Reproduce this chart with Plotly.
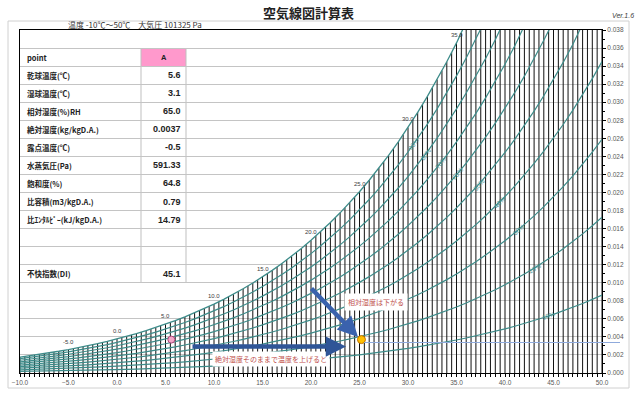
import numpy as np
import plotly.graph_objects as go

# ---------------- data ----------------
P_ATM = 101325.0
temps = list(range(-10, 51))
sat_pressure_pa = [286.5, 310.1, 335.3, 362.3, 391.1, 421.9, 454.7, 489.7, 527.1, 567.0,
                   611.2, 657.1, 706.0, 757.9, 813.5, 872.6, 935.4, 1001.8, 1072.9, 1148.1,
                   1228.1, 1312.9, 1402.7, 1497.9, 1598.8, 1705.6, 1818.5, 1938.0, 2064.4, 2197.8,
                   2338.8, 2487.7, 2644.7, 2810.4, 2985.0, 3169.0, 3362.9, 3567.0, 3781.8, 4007.8,
                   4245.5, 4495.3, 4757.8, 5033.5, 5322.9, 5626.7, 5945.4, 6279.5, 6629.8, 6996.9,
                   7381.4, 7784.0, 8205.4, 8646.4, 9107.6, 9589.8, 10093.8, 10620.2, 11170.0, 11743.8, 12344.0]
rh_levels = [10, 20, 30, 40, 50, 60, 70, 80, 90]
sat_label_temps = [-5, 0, 5, 10, 15, 20, 25, 30, 35]
dry_bulb_step = 0.5

row_labels = ["point", "乾球温度(℃)", "湿球温度(℃)", "相対湿度(%)RH", "絶対湿度(kg/kgD.A.)",
              "露点温度(℃)", "水蒸気圧(Pa)", "飽和度(%)", "比容積(m3/kgD.A.)",
              "比ｴﾝﾀﾙﾋﾟｰ(kJ/kgD.A.)", "", "", "不快指数(DI)"]
row_values = ["A", "5.6", "3.1", "65.0", "0.0037", "-0.5", "591.33", "64.8", "0.79",
              "14.79", "", "", "45.1"]

point_a = (5.6, 0.0037)
point_b = (25.2, 0.0037)

title = "空気線図計算表"
subtitle = "温度 -10℃～50℃　大気圧 101325 Pa"
version = "Ver.1.6"
note_heat = "絶対湿度そのままで温度を上げると"
note_rh = "相対湿度は下がる"

# ---------------- layout constants ----------------
W_PX, H_PX = 640, 397
ML, MR, MT, MB = 20, 38, 30, 24
PW, PH = W_PX - ML - MR, H_PX - MT - MB
XMIN, XMAX, YMIN, YMAX = -10, 50, 0.0, 0.038
TEAL = "#3d8c8a"
CJK = "Noto Sans CJK JP, Liberation Sans, sans-serif"


def px_x(px):
    return (px - ML) / PW


def px_y(py):
    return (H_PX - MB - py) / PH


def paper_text(xp, yp, text, xanchor="center", **kw):
    d = dict(x=px_x(xp), y=px_y(yp), xref="paper", yref="paper", text=text, showarrow=False,
             xanchor=xanchor, yanchor="middle")
    d.update(kw)
    return d


t_arr = np.array(temps, dtype=float)
ps_arr = np.array(sat_pressure_pa)
ws_arr = 0.622 * ps_arr / (P_ATM - ps_arr)

fig = go.Figure()

# dry-bulb vertical lines up to the saturation curve
vx, vy = [], []
for t in np.arange(XMIN, XMAX + 1e-9, dry_bulb_step):
    top = float(np.interp(t, t_arr, ws_arr))
    vx += [t, t, None]
    vy += [0.0, top, None]
fig.add_trace(go.Scatter(x=vx, y=vy, mode="lines", line=dict(color="#111111", width=1),
                         hoverinfo="skip", showlegend=False))

# RH curves (teal)
for rh in rh_levels:
    fig.add_trace(go.Scatter(x=temps, y=list(ws_arr * rh / 100.0), mode="lines",
                             line=dict(color=TEAL, width=1.2), hoverinfo="skip", showlegend=False))
# saturation curve
fig.add_trace(go.Scatter(x=temps, y=list(ws_arr), mode="lines",
                         line=dict(color=TEAL, width=1.3), hoverinfo="skip", showlegend=False))

# points
fig.add_trace(go.Scatter(x=[point_a[0]], y=[point_a[1]], mode="markers",
                         marker=dict(size=7, color="#f4a6c8", line=dict(color="#b0487a", width=1)),
                         showlegend=False, hoverinfo="skip"))
fig.add_trace(go.Scatter(x=[point_b[0]], y=[point_b[1]], mode="markers",
                         marker=dict(size=8, color="#ffc000", line=dict(color="#c07000", width=1)),
                         showlegend=False, hoverinfo="skip"))

annotations = []
shapes = []

# saturation temperature labels
for t in sat_label_temps:
    w = float(np.interp(t, t_arr, ws_arr))
    annotations.append(dict(x=t, y=w, xref="x", yref="y", text=f"{t:.1f}", showarrow=False,
                            yshift=8, font=dict(size=6, color="#404040")))

# RH labels along curves
label_t = [44.5, 43.0, 41.4, 39.4, 37.3, 35.1, 33.4, 31.8, 30.6]
xs = PW / (XMAX - XMIN)
ys = PH / (YMAX - YMIN)
for rh, t in zip(rh_levels, label_t):
    w = rh / 100.0 * float(np.interp(t, t_arr, ws_arr))
    dw = rh / 100.0 * (float(np.interp(t + 0.5, t_arr, ws_arr)) - float(np.interp(t - 0.5, t_arr, ws_arr)))
    ang = -np.degrees(np.arctan(dw * ys / xs))
    annotations.append(dict(x=t, y=w, xref="x", yref="y", text=f"{rh}%", showarrow=False,
                            textangle=ang, font=dict(size=6.5, color=TEAL)))

# table
shapes.append(dict(type="rect", xref="paper", yref="y", x0=px_x(141), x1=px_x(186),
                   y0=0.034, y1=0.036, fillcolor="#ff99cc", line=dict(width=0), layer="between"))
for xp in (141, 186):
    shapes.append(dict(type="line", xref="paper", yref="y", x0=px_x(xp), x1=px_x(xp),
                       y0=0.010, y1=0.036, line=dict(color="#bfbfbf", width=1), layer="between"))
for i, (lab, val) in enumerate(zip(row_labels, row_values)):
    yc = 0.035 - 0.002 * i
    if lab:
        annotations.append(dict(x=px_x(25), y=yc, xref="paper", yref="y", text=f"<b>{lab}</b>",
                                showarrow=False, xanchor="left", yanchor="middle",
                                font=dict(size=7.5, color="#222222", family=CJK)))
    if val:
        if i == 0:
            annotations.append(dict(x=px_x(163.5), y=yc, xref="paper", yref="y", text=f"<b>{val}</b>",
                                    showarrow=False, xanchor="center", yanchor="middle",
                                    font=dict(size=7.5, color="#222222", family="Liberation Sans")))
        else:
            annotations.append(dict(x=px_x(183), y=yc, xref="paper", yref="y", text=f"<b>{val}</b>",
                                    showarrow=False, xanchor="right", yanchor="middle",
                                    font=dict(size=9, color="#222222", family="Liberation Sans")))

# titles
annotations.append(paper_text(308, 12, f"<b>{title}</b>",
                              font=dict(size=13, color="#222222", family=CJK)))
annotations.append(paper_text(66, 25, subtitle, xanchor="left",
                              font=dict(size=8, color="#333333", family=CJK)))
annotations.append(paper_text(623, 16, f"<i>{version}</i>",
                              font=dict(size=7, color="#404040", family="Liberation Sans")))

# note boxes
annotations.append(paper_text(271, 359, note_heat, bgcolor="white", borderpad=2,
                              font=dict(size=7, color="#c0504d", family=CJK)))
annotations.append(paper_text(376, 302, note_rh, bgcolor="white", borderpad=3,
                              font=dict(size=7, color="#c0504d", family=CJK)))

# arrows (drawn last, on top)
annotations.append(dict(x=px_x(346), y=px_y(346.5), xref="paper", yref="paper", ax=-155, ay=0,
                        showarrow=True, arrowhead=2, arrowsize=0.9, arrowwidth=4.5,
                        arrowcolor="#2f5597", text=""))
annotations.append(dict(x=px_x(358), y=px_y(337), xref="paper", yref="paper", ax=-48, ay=-50,
                        showarrow=True, arrowhead=2, arrowsize=0.9, arrowwidth=4.5,
                        arrowcolor="#3a62ad", text=""))

# thin light-blue line
shapes.append(dict(type="line", xref="paper", yref="paper", x0=px_x(364), x1=px_x(620),
                   y0=px_y(342.5), y1=px_y(342.5), line=dict(color="#8faadc", width=1), layer="above"))
# outer border
shapes.append(dict(type="rect", xref="paper", yref="paper", x0=px_x(8), x1=px_x(629),
                   y0=px_y(388), y1=px_y(21), line=dict(color="#d0d0d0", width=1),
                   fillcolor="rgba(0,0,0,0)", layer="below"))

fig.update_layout(
    width=W_PX, height=H_PX,
    margin=dict(l=ML, r=MR, t=MT, b=MB),
    paper_bgcolor="white", plot_bgcolor="white",
    font=dict(family="Liberation Sans, Noto Sans CJK JP", size=7, color="#404040"),
    showlegend=False,
    annotations=annotations,
    shapes=shapes,
    xaxis=dict(range=[XMIN, XMAX], tickmode="array", tickvals=list(range(-10, 51, 5)),
               tickformat=".1f", showgrid=False, zeroline=False, showline=True, linecolor="black",
               linewidth=1, mirror=True, ticks="outside", ticklen=3, tickcolor="black",
               tickfont=dict(size=6.5, color="#595959"),
               minor=dict(dtick=0.5, ticks="outside", ticklen=3, tickcolor="black")),
    yaxis=dict(range=[YMIN, YMAX], side="right", dtick=0.002, tickformat=".3f",
               showgrid=True, gridcolor="#c4c4c4", gridwidth=1, zeroline=False,
               showline=True, linecolor="black", linewidth=1, mirror=True,
               ticks="outside", ticklen=3, tickcolor="black",
               tickfont=dict(size=6.5, color="#595959"),
               minor=dict(dtick=0.001, ticks="outside", ticklen=2, tickcolor="black")),
)

fig.write_html("out.html", config={"displayModeBar": False},
               post_script="document.body.style.margin='0px';document.body.style.overflow='hidden';")
